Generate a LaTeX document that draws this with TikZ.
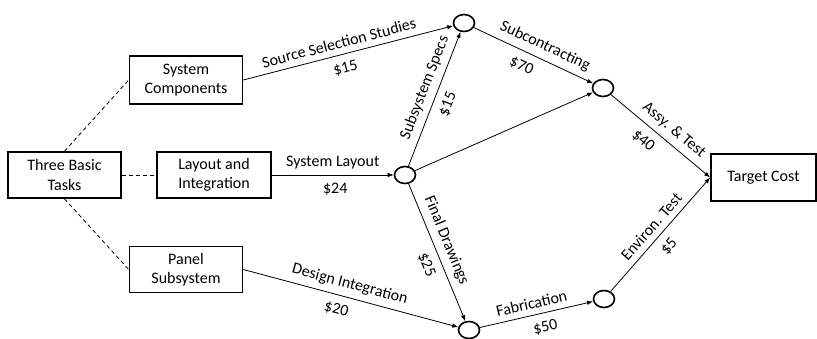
\documentclass[tikz,border=0pt]{standalone}
\usepackage{fontspec}
\setmainfont{Carlito}
\usetikzlibrary{arrows.meta,shapes.geometric}

\begin{document}
\begin{tikzpicture}
    [x=1pt,y=-1pt,font=\fontsize{16}{19.5}\selectfont,
     box/.style={draw,line width=1.6pt,rectangle,align=center,minimum width=113pt,minimum height=46pt,inner sep=2pt},
     evt/.style={draw,line width=1.6pt,ellipse,minimum width=21pt,minimum height=17pt,inner sep=0pt},
     act/.style={line width=0.8pt,-{Latex[length=6pt,width=4.5pt]}},
     up/.style={sloped,above,inner sep=6pt},
     dn/.style={sloped,below,inner sep=8pt}]
    \useasboundingbox (0,0) rectangle (817,339);

    \node[box] (base) at (64.5,175) {Three Basic\\Tasks};
    \node[box,minimum height=48pt] (comp) at (186,80) {System\\Components};
    \node[box,minimum width=114pt] (lay) at (214,175) {Layout and\\Integration};
    \node[box] (pan) at (186,269.5) {Panel\\Subsystem};
    \node[box,minimum width=105pt,minimum height=47pt] (tgt) at (763.5,177.5) {Target Cost};

    \node[evt] (n1) at (464,23) {};
    \node[evt] (n2) at (603,88) {};
    \node[evt] (n3) at (405,175) {};
    \node[evt] (n4) at (469,330) {};
    \node[evt] (n5) at (604,299) {};

    \draw [dashed,line width=0.8pt,dash pattern=on 4pt off 3pt] (base.north) -- (comp.west);
    \draw [dashed,line width=0.8pt,dash pattern=on 4pt off 3pt] (base.east) -- (lay.west);
    \draw [dashed,line width=0.8pt,dash pattern=on 4pt off 3pt] (base.south) -- (pan.west);

    \draw [act] (comp.east) -- node[up,pos=0.47] (a1) {Source Selection Studies} node[dn,pos=0.47] (b1) {\$15} (n1);
    \draw [act] (lay.east) -- node[up,pos=0.5] (a2) {System Layout} node[dn,pos=0.52] (b2) {\$24} (n3);
    \draw [act] (pan.east) -- node[up,pos=0.48] (a3) {Design Integration} node[dn,pos=0.45] (b3) {\$20} (n4);
    \draw [act] (n3) -- node[up,pos=0.55] (a4) {Subsystem Specs} node[dn,pos=0.5] (b4) {\$15} (n1);
    \draw [act] (n3) -- (n2);
    \draw [act] (n3) -- node[up,pos=0.45] (a5) {Final Drawings} node[dn,pos=0.55] (b5) {\$25} (n4);
    \draw [act] (n1) -- node[up,pos=0.55] (a6) {Subcontracting} node[dn,pos=0.45] (b6) {\$70} (n2);
    \draw [act] (n2) -- node[up,pos=0.55] (a7) {Assy. \& Test} node[dn,pos=0.42] (b7) {\$40} (tgt.west);
    \draw [act] (n4) -- node[up,pos=0.48] (a8) {Fabrication} node[dn,pos=0.55] (b8) {\$50} (n5);
    \draw [act] (n5) -- node[up,pos=0.5] (a9) {Environ. Test} node[dn,pos=0.48] (b9) {\$5} (tgt.west);
  \end{tikzpicture}
\end{document}
